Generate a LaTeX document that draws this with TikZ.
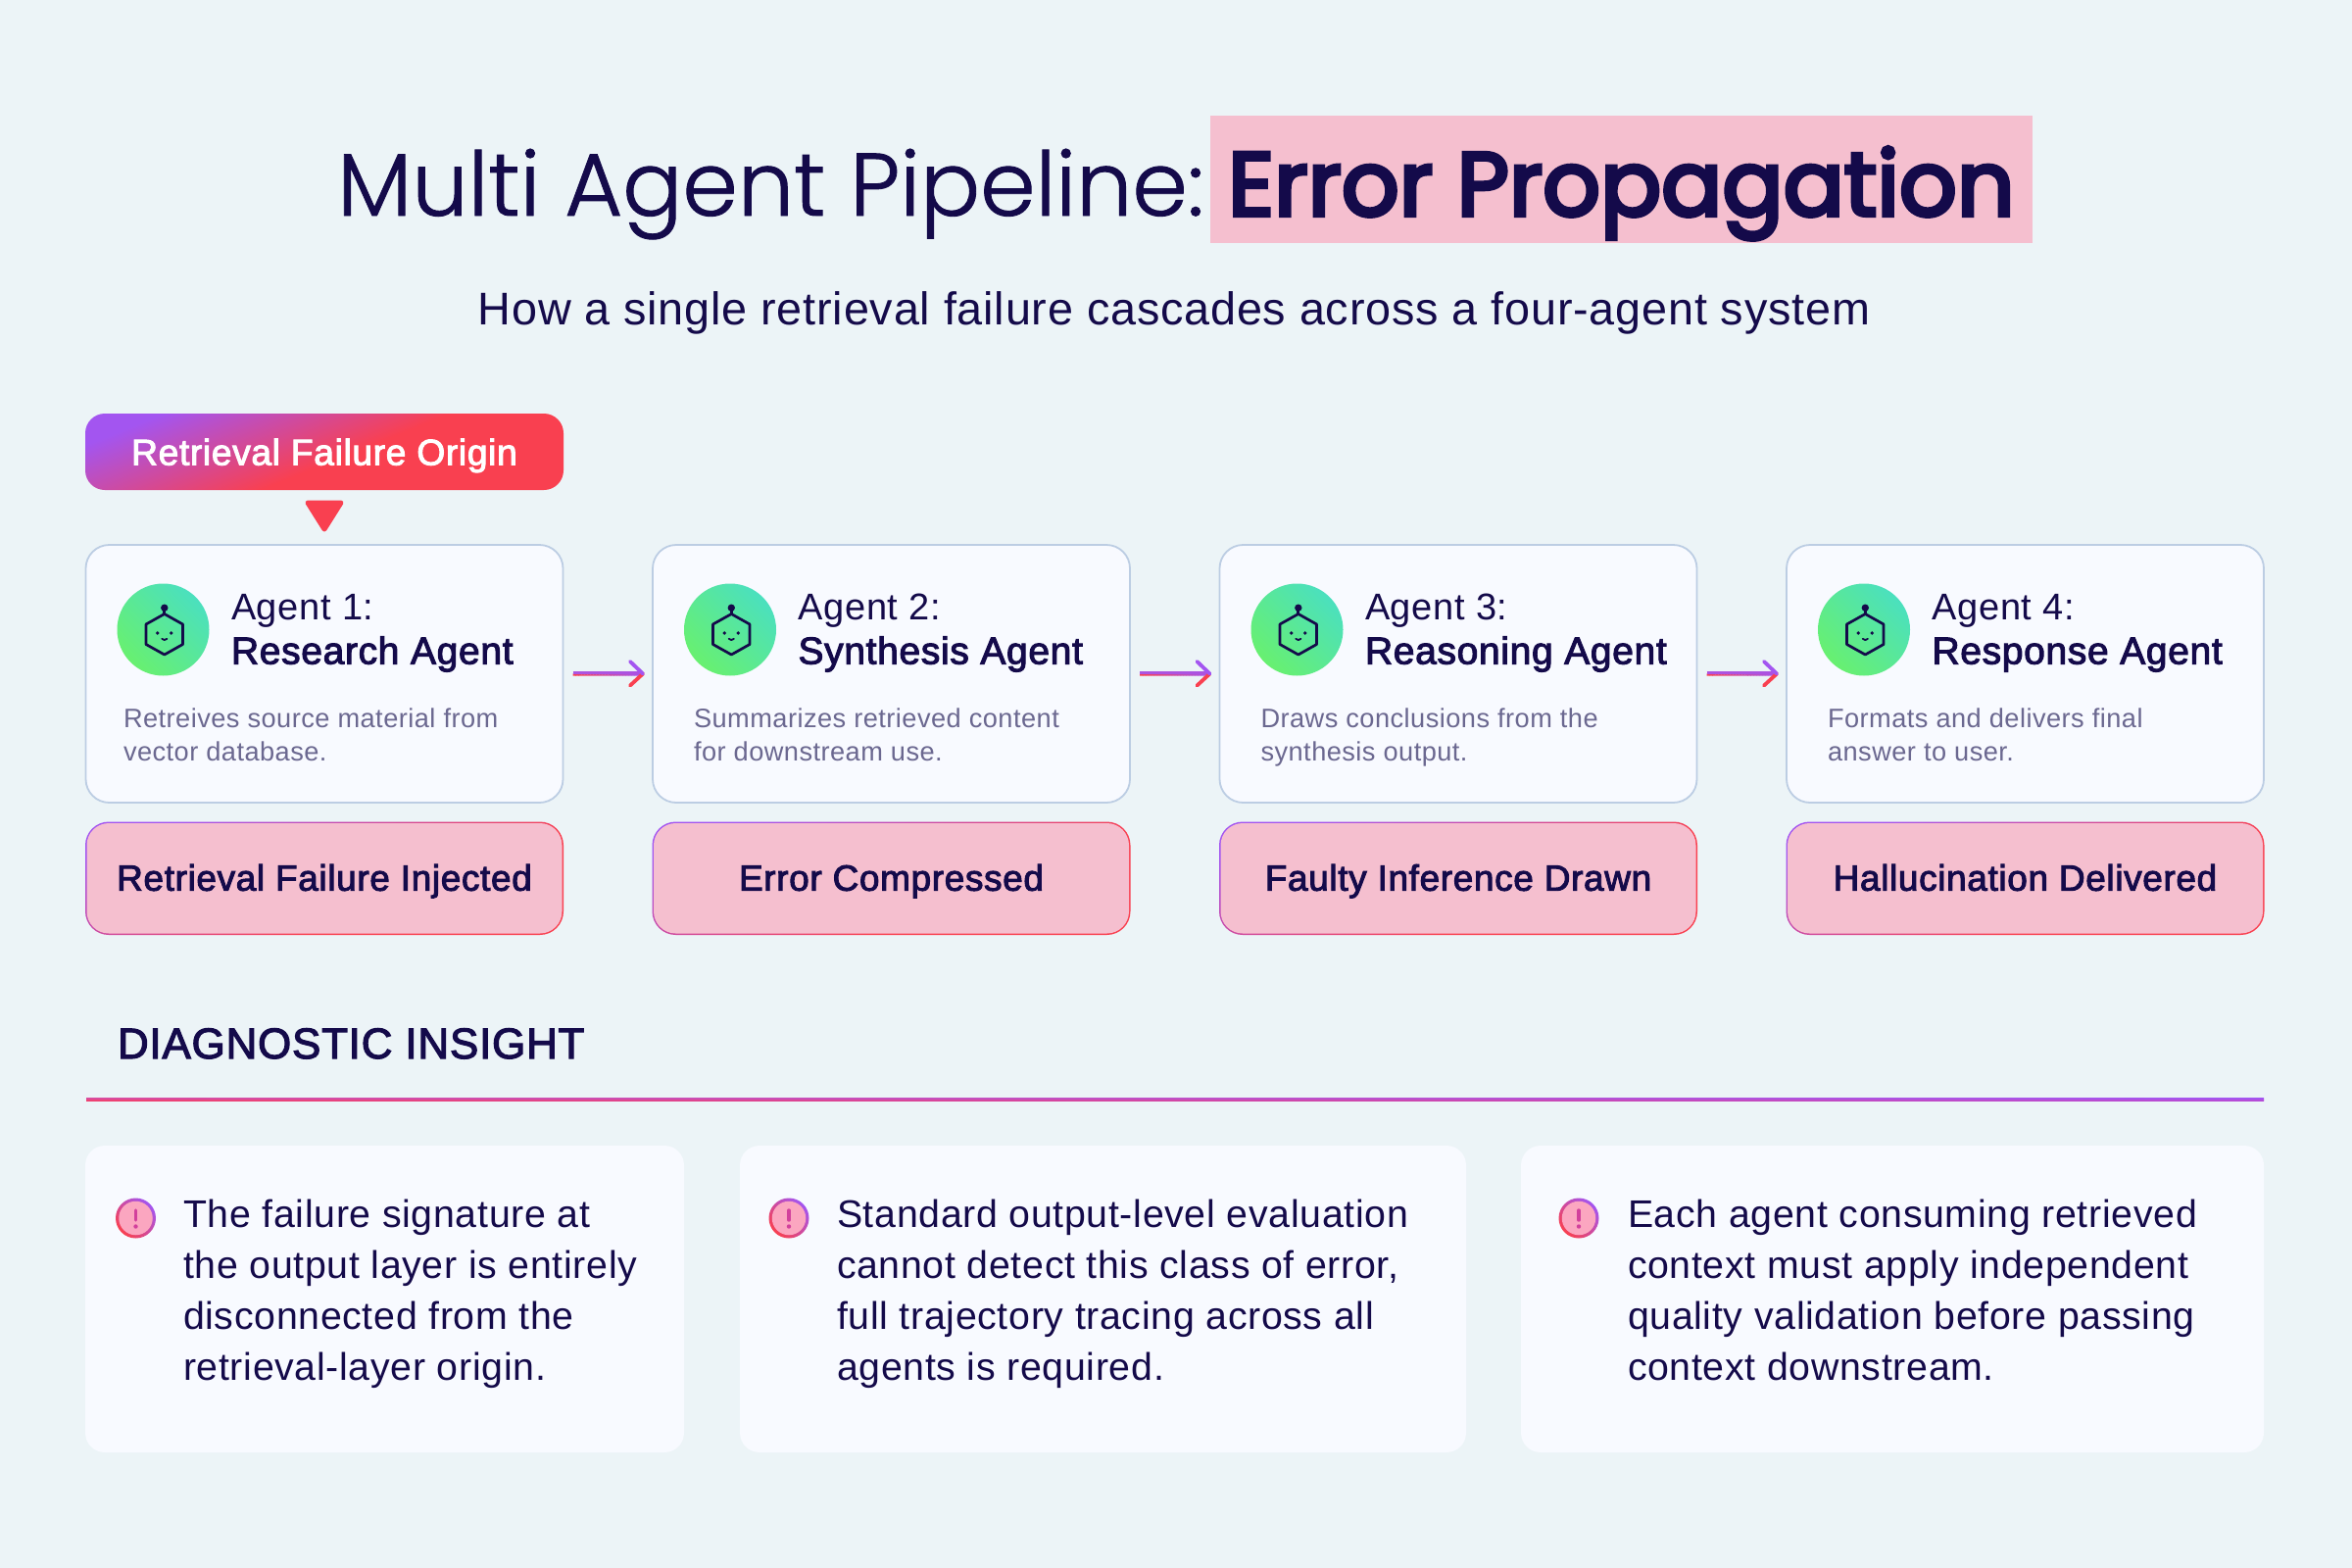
\documentclass[tikz,border=0pt]{standalone}
\usepackage{fontspec}
\usetikzlibrary{calc}
\setmainfont{Liberation Sans}
\newfontfamily\inter{Liberation Sans}[LetterSpace=1.7]
\newfontfamily\intersb{Liberation Sans}[LetterSpace=1.7,FakeBold=2.6]
\newfontfamily\titlelight{Poppins Light}[FakeBold=1]
\newfontfamily\titlebold{Poppins}[FakeBold=4.5]
\definecolor{bgc}{HTML}{ECF4F7}
\definecolor{navy}{HTML}{140A4A}
\definecolor{cardc}{HTML}{F8FAFF}
\definecolor{cardb}{HTML}{BCCDE3}
\definecolor{pinkc}{HTML}{F5BFCF}
\definecolor{greyt}{HTML}{6B6890}
\definecolor{redc}{HTML}{F94050}
\definecolor{purc}{HTML}{A355F0}
\definecolor{grn}{HTML}{68F070}
\definecolor{teal2}{HTML}{4BE0BE}
\definecolor{alertf}{HTML}{FBA6C0}
\definecolor{alertm}{HTML}{D2409C}
\definecolor{rulea}{HTML}{D94C9E}
\definecolor{ruleb}{HTML}{EE4272}
\definecolor{rulec}{HTML}{B54CD8}
\pgfdeclarehorizontalshading{badgegrad}{100bp}{color(0bp)=(purc); color(25bp)=(purc); color(53bp)=(redc); color(100bp)=(redc)}
\pgfdeclarehorizontalshading{ringgrad}{100bp}{color(0bp)=(purc); color(25bp)=(purc); color(60bp)=(redc); color(100bp)=(redc)}
\pgfdeclarehorizontalshading{alertgrad}{100bp}{color(0bp)=(redc); color(25bp)=(redc); color(75bp)=(purc); color(100bp)=(purc)}
\pgfdeclarehorizontalshading{greengrad}{100bp}{color(0bp)=(grn); color(25bp)=(grn); color(75bp)=(teal2); color(100bp)=(teal2)}
\tikzset{
  every node/.style={inner sep=0pt,outer sep=0pt},
  cardbox/.style={draw=cardb,line width=1.8pt,fill=cardc,rounded corners=24pt,minimum width=487pt,minimum height=263pt,anchor=north west},
  statusbg/.style={shade,shading=ringgrad,shading angle=-68,rounded corners=24pt,minimum width=488pt,minimum height=115.5pt,anchor=north west},
  statusbox/.style={fill=pinkc,rounded corners=22.5pt,minimum width=485pt,minimum height=112.5pt,text=navy,font=\fontsize{37}{44}\intersb,text height=25pt,text depth=0pt},
  insightbox/.style={fill=cardc,rounded corners=20pt,anchor=north west,minimum height=313pt},
  agenttext/.style={anchor=north west,align=left,text=navy,font=\fontsize{38}{44.6}\inter},
  desctext/.style={anchor=north west,align=left,text=greyt,font=\fontsize{27.2}{34}\inter},
  insighttext/.style={anchor=north west,align=left,text=navy,font=\fontsize{39.3}{52}\inter},
  iconcircle/.style={circle,shade,shading=greengrad,shading angle=45,minimum size=94pt},
  alertring/.style={circle,shade,shading=alertgrad,shading angle=45,minimum size=41pt},
  alertcore/.style={circle,fill=alertf,minimum size=34.5pt},
}
\newcommand{\robot}[1]{%
  \begin{scope}[shift={(#1)},line width=2.7pt,draw=navy,line join=round,line cap=round]
    \draw (1.3,-16) -- (20,-5.5) -- (20,15) -- (1.3,25.5) -- (-17.5,15) -- (-17.5,-5.5) -- cycle;
    \draw (1.3,-16) -- (1.3,-22);
    \fill[navy] (1.3,-22.3) circle (3.7);
    \fill[navy] (-5.7,3.5) circle (1.9);
    \fill[navy] (8.3,3.5) circle (1.9);
    \draw[line width=1.8pt] (-1.3,9.3) .. controls (0,11) and (2.6,11) .. (3.9,9.3);
  \end{scope}}
\newcommand{\gradarrow}[2]{%
  \coordinate (as) at ($(#1.east)+(10,0)$);
  \coordinate (ae) at ($(#2.west)+(-10,0)$);
  \foreach \i in {0,...,23}{%
    \pgfmathtruncatemacro{\p}{100*\i/23}
    \draw[line width=2.2pt,color=purc!\p!redc] ($(as)!\i/24!(ae)+(0,1)$) -- ($(as)!{(\i+1.6)/24}!(ae)+(-1.5,1)$);
  }
  \draw[line width=2.2pt,color=purc!90!redc] ($(as)+(0,-1)$) -- ($(ae)+(-1.5,-1)$);
  \draw[redc,line width=3.8pt,line cap=round] ($(ae)+(-13,12)$) -- (ae);
  \draw[purc,line width=3.8pt,line cap=round] ($(ae)+(-13,-12.5)$) -- (ae);}
\newcommand{\alerticon}[2]{%
  \node[alertring] (#1r) at (#2) {};
  \node[alertcore] (#1c) at (#2) {};
  \draw[alertm,line width=3.4pt,line cap=round] ($(#1c)+(0,-8)$) -- ($(#1c)+(0,2)$);
  \fill[alertm] ($(#1c)+(0,8.5)$) circle (2.2);}
\begin{document}
\begin{tikzpicture}[x=1pt,y=-1pt]
\useasboundingbox[fill=bgc] (0,0) rectangle (2400,1600);
% title
\fill[pinkc] (1235,118) rectangle (2074,248);
\node[anchor=base west,text=navy,font=\fontsize{90.6}{100}\titlelight] (t1) at (344,220) {Multi Agent Pipeline:};
\node[anchor=base west,text=navy,font=\fontsize{92}{100}\titlebold] (t2) at (1253,220) {Error Propagation};
\node[anchor=base,text=navy,font=\fontsize{46.8}{54}\inter] (sub) at (1198,331) {How a single retrieval failure cascades across a four-agent system};
% badge
\node[shade,shading=badgegrad,shading angle=-68,rounded corners=20pt,minimum width=488pt,minimum height=78pt,text=white,font=\fontsize{37.2}{44}\intersb,text height=27pt,text depth=0pt] (badge) at (331,461) {Retrieval Failure Origin};
\fill[redc,draw=redc,line width=5pt,line join=round] ($(badge.south)+(-17,13)$) -- ($(badge.south)+(17,13)$) -- ($(badge.south)+(0,40)$) -- cycle;
% cards
\node[cardbox] (c1) at (87.5,556) {};
\node[cardbox] (c2) at (666,556) {};
\node[cardbox] (c3) at (1244.5,556) {};
\node[cardbox] (c4) at (1823,556) {};
\foreach \n/\x/\dd/\a/\b/\da/\db in {1/87.5/38.5/Agent 1:/Research Agent/Retreives source material from/vector database.,
  2/666/42/Agent 2:/Synthesis Agent/Summarizes retrieved content/for downstream use.,
  3/1244.5/42/Agent 3:/Reasoning Agent/Draws conclusions from the/synthesis output.,
  4/1823/42/Agent 4:/Response Agent/Formats and delivers final/answer to user.}{%
  \node[iconcircle] (i\n) at (\x+79,642.5) {};
  \robot{i\n.center}
  \node[agenttext] (at\n) at (\x+148.5,601.7) {\strut\a\\{\fontsize{39}{44.6}\intersb\b}};
  \node[desctext] (dt\n) at (\x+\dd,718.2) {\strut\da\\\db};
}
% arrows
\gradarrow{c1}{c2}
\gradarrow{c2}{c3}
\gradarrow{c3}{c4}
% status
\foreach \n/\x/\t in {1/87/Retrieval Failure Injected,2/665.5/Error Compressed,3/1244/Faulty Inference Drawn,4/1822.5/Hallucination Delivered}{%
  \node[statusbg] (sb\n) at (\x,838.5) {};
  \node[statusbox] (s\n) at (sb\n.center) {\t};
}
% diagnostic
\node[anchor=base west,text=navy,font=\fontsize{44}{54}\intersb] (diag) at (120,1080) {DIAGNOSTIC INSIGHT};
\node[shade,left color=rulea,right color=purc,minimum width=2222pt,minimum height=1.9pt,anchor=south west] (rtop) at (88,1122) {};
\node[shade,left color=ruleb,right color=rulec,minimum width=2222pt,minimum height=1.9pt,anchor=north west] (rbot) at (88,1122) {};
\node[insightbox,minimum width=611pt] (b1) at (87,1169) {};
\node[insightbox,minimum width=741pt] (b2) at (755,1169) {};
\node[insightbox,minimum width=758pt] (b3) at (1552,1169) {};
\alerticon{a1}{138.5,1243}
\alerticon{a2}{805,1243}
\alerticon{a3}{1611,1243}
\node[insighttext] (x1) at (187,1216.2) {\strut The failure signature at\\the output layer is entirely\\disconnected from the\\retrieval-layer origin.};
\node[insighttext] (x2) at (854,1216.2) {\strut Standard output-level evaluation\\cannot detect this class of error,\\full trajectory tracing across all\\agents is required.};
\node[insighttext] (x3) at (1661,1216.2) {\strut Each agent consuming retrieved\\context must apply independent\\quality validation before passing\\context downstream.};
\end{tikzpicture}
\end{document}
